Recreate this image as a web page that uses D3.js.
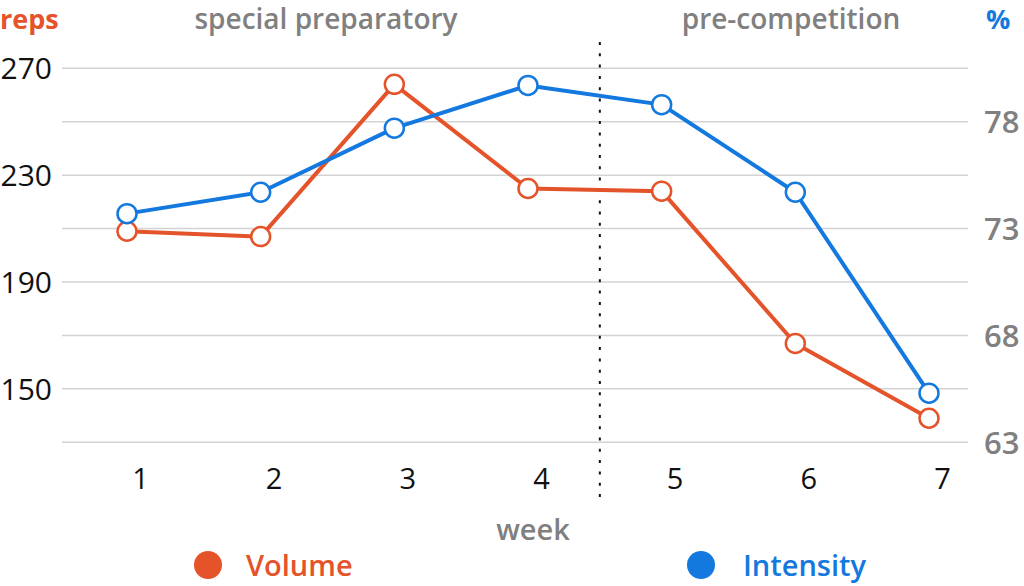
<!DOCTYPE html>
<html><head><meta charset="utf-8">
<script src="https://cdn.jsdelivr.net/npm/d3@7"></script>
<style>body{margin:0;background:#fff;}svg{display:block;font-family:"Open Sans",sans-serif;}</style>
</head><body>
<svg id="c" width="1024" height="586"></svg>
<script>
const weeks = [1, 2, 3, 4, 5, 6, 7];
const volume = [209, 207, 264, 225, 224, 167, 139];
const intensity = [73.7, 74.7, 77.7, 79.7, 78.8, 74.7, 65.3];
const leftTicks = [150, 190, 230, 270];
const rightTicks = [63, 68, 73, 78];
const gridTicks = [130, 150, 170, 190, 210, 230, 250, 270];
const phases = [{label: "special preparatory", from: 0.5, to: 4.5}, {label: "pre-competition", from: 4.5, to: 7.5}];
const phaseBoundary = 4.5;

const orange = "#E4532A", blue = "#1479DF", gray = "#808080";
const svg = d3.select("#c");
const x = d3.scaleLinear().domain([1, 7]).range([127, 929]);
const yL = d3.scaleLinear().domain([130, 270]).range([442.3, 68.3]);
const yR = d3.scaleLinear().domain([63, 80.5]).range([442.3, 68.3]);

// gridlines
svg.append("g").selectAll("line").data(gridTicks).join("line")
  .attr("x1", 62).attr("x2", 968)
  .attr("y1", d => yL(d)).attr("y2", d => yL(d))
  .attr("stroke", "#d3d3d3").attr("stroke-width", 1.5);

// left axis
const gl = svg.append("g").attr("transform", "translate(52,0)")
  .call(d3.axisLeft(yL).tickValues(leftTicks).tickSize(0).tickPadding(0));
gl.select(".domain").remove();
gl.selectAll("text").attr("font-size", 30).attr("fill", "#111").attr("font-family", "Open Sans").attr("dy", "0.35em");

// right axis
const gr = svg.append("g").attr("transform", "translate(984,0)")
  .call(d3.axisRight(yR).tickValues(rightTicks).tickSize(0).tickPadding(0));
gr.select(".domain").remove();
gr.selectAll("text").attr("font-size", 31).attr("font-weight", 600).attr("fill", gray).attr("font-family", "Open Sans").attr("dy", "0.35em");

// bottom axis (labels)
const gb = svg.append("g").attr("transform", "translate(13,468)")
  .call(d3.axisBottom(x).tickValues(weeks).tickFormat(d3.format("d")).tickSize(0).tickPadding(0));
gb.select(".domain").remove();
gb.selectAll("text").attr("font-size", 29).attr("fill", "#111").attr("font-family", "Open Sans").attr("dy", "0.71em");

// phase boundary
svg.append("line")
  .attr("x1", x(phaseBoundary) + 5).attr("x2", x(phaseBoundary) + 5)
  .attr("y1", 42).attr("y2", 505)
  .attr("stroke", "#111").attr("stroke-width", 2).attr("stroke-dasharray", "3,8.3");

// phase labels
const phaseCenters = [326, 791];
svg.append("g").selectAll("text").data(phases).join("text")
  .attr("x", (d, i) => phaseCenters[i]).attr("y", 29)
  .attr("text-anchor", "middle").attr("font-size", 28).attr("font-weight", 600)
  .attr("fill", gray).text(d => d.label);

// axis titles
svg.append("text").attr("x", 0).attr("y", 29).attr("font-size", 27).attr("font-weight", 700).attr("fill", orange).text("reps");
svg.append("text").attr("x", 986).attr("y", 29).attr("font-size", 27).attr("font-weight", 700).attr("fill", blue).text("%");
svg.append("text").attr("x", 533).attr("y", 540).attr("text-anchor", "middle").attr("font-size", 29).attr("font-weight", 600).attr("fill", gray).text("week");

// lines
const series = [
  {name: "Volume", values: volume, y: yL, color: orange},
  {name: "Intensity", values: intensity, y: yR, color: blue}
];
series.forEach(s => {
  const line = d3.line().x((d, i) => x(weeks[i])).y(d => s.y(d));
  svg.append("path").datum(s.values).attr("d", line)
    .attr("fill", "none").attr("stroke", s.color).attr("stroke-width", 4).attr("stroke-linejoin", "round");
  svg.append("g").selectAll("circle").data(s.values).join("circle")
    .attr("cx", (d, i) => x(weeks[i])).attr("cy", d => s.y(d)).attr("r", 9.5)
    .attr("fill", "#fff").attr("stroke", s.color).attr("stroke-width", 2.5);
});

// legend
const legendPos = [{cx: 208, tx: 246}, {cx: 701, tx: 743}];
series.forEach((s, i) => {
  svg.append("circle").attr("cx", legendPos[i].cx).attr("cy", 565).attr("r", 14).attr("fill", s.color);
  svg.append("text").attr("x", legendPos[i].tx).attr("y", 576).attr("font-size", 29).attr("font-weight", 600)
    .attr("fill", s.color).text(s.name);
});
</script>
</body></html>
